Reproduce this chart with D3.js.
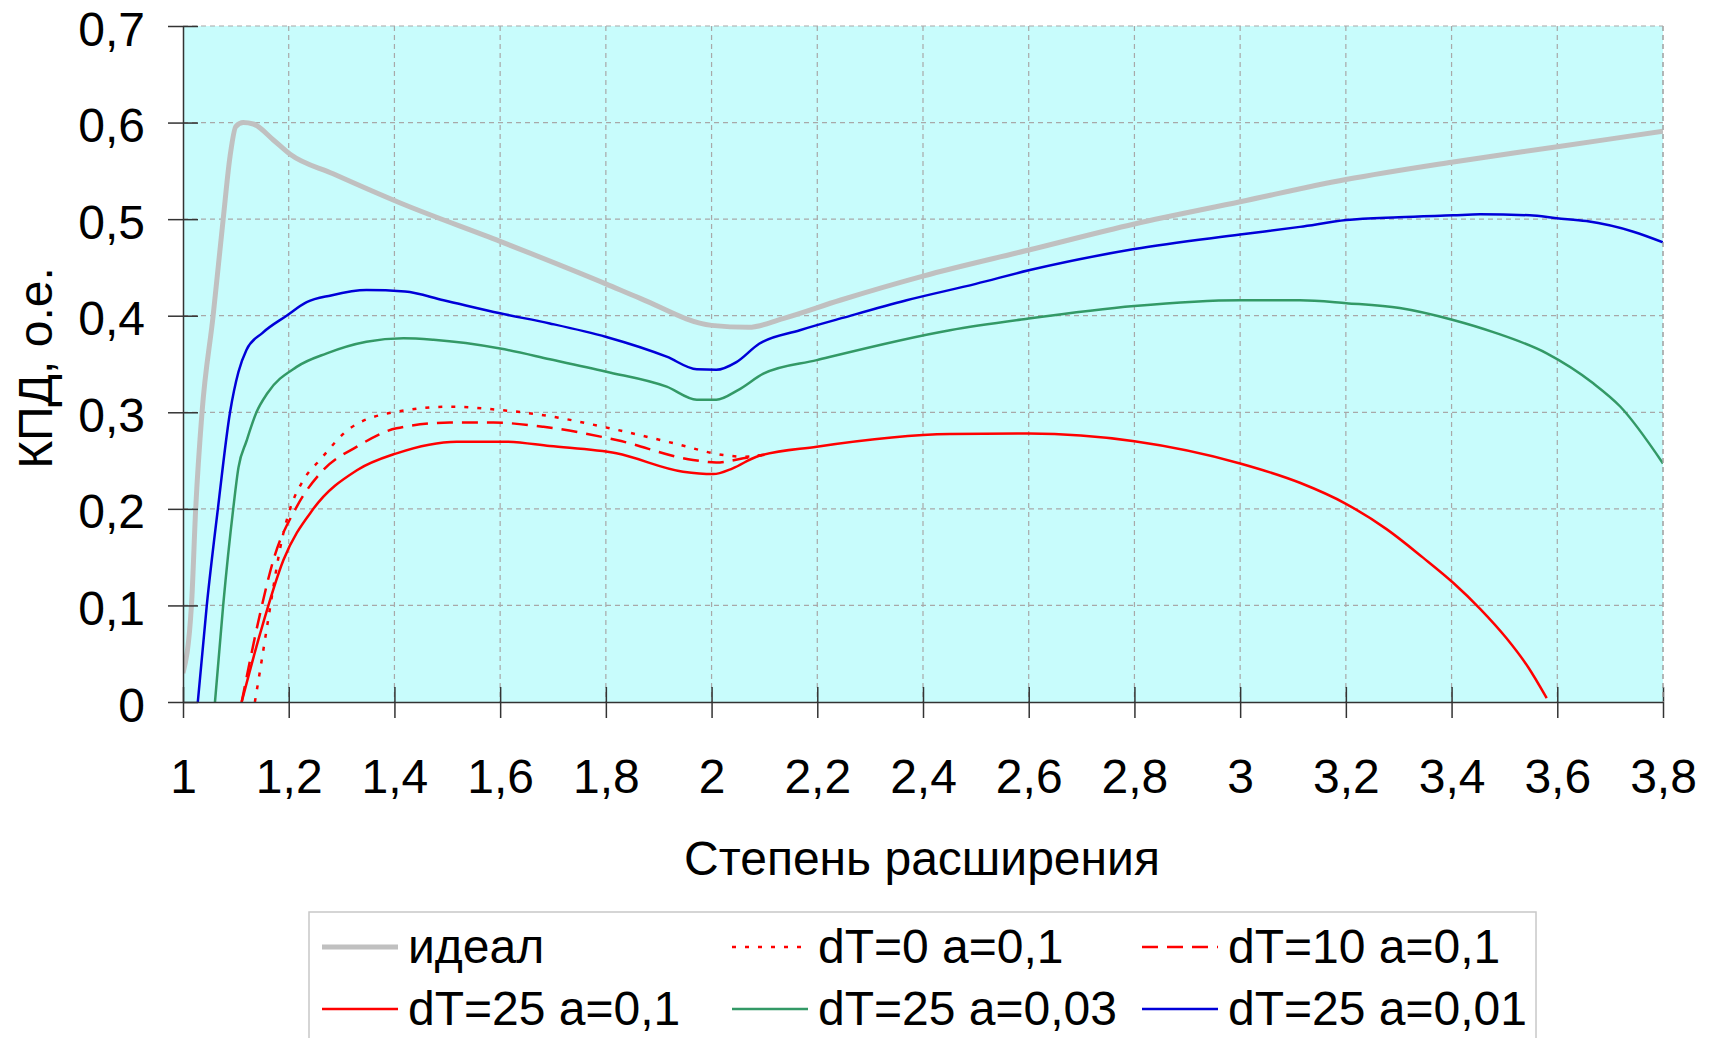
<!DOCTYPE html>
<html>
<head>
<meta charset="utf-8">
<script src="https://cdn.jsdelivr.net/npm/d3@7"></script>
<style>
  html, body { margin: 0; padding: 0; background: #ffffff; }
  svg { display: block; }
  text { font-family: "Liberation Sans", Arial, sans-serif; fill: #000; }
</style>
</head>
<body>
<svg id="chart" width="1710" height="1038"></svg>
<script>
// Expansion ratio ticks and efficiency ticks
const xTicks = [1, 1.2, 1.4, 1.6, 1.8, 2, 2.2, 2.4, 2.6, 2.8, 3, 3.2, 3.4, 3.6, 3.8];
const yTicks = [0, 0.1, 0.2, 0.3, 0.4, 0.5, 0.6, 0.7];

// идеал
const idealX = [1.0, 1.016, 1.024, 1.036, 1.057, 1.076, 1.089, 1.10, 1.114, 1.133, 1.171, 1.202, 1.284, 1.41, 1.6, 1.8, 1.865, 2.0, 2.07, 2.135, 2.243, 2.4, 2.6, 2.8, 3.0, 3.2, 3.4, 3.6, 3.8];
const idealY = [0.03, 0.1, 0.2, 0.3, 0.4, 0.5, 0.565, 0.596, 0.600, 0.5985, 0.582, 0.5675, 0.547, 0.517, 0.477, 0.433, 0.418, 0.39, 0.388, 0.397, 0.416, 0.441, 0.468, 0.495, 0.518, 0.541, 0.559, 0.575, 0.591];

// dT=0 a=0,1
const dT0X = [1.136, 1.149, 1.158, 1.19, 1.202, 1.228, 1.259, 1.316, 1.404, 1.505, 1.6, 1.682, 1.808, 1.928, 2.022, 2.06, 2.1];
const dT0Y = [0, 0.0435, 0.0746, 0.175, 0.199, 0.230, 0.2506, 0.2834, 0.3006, 0.3058, 0.3024, 0.297, 0.2834, 0.268, 0.2558, 0.254, 0.256];

// dT=10 a=0,1
const dT10X = [1.111, 1.127, 1.146, 1.171, 1.215, 1.265, 1.329, 1.404, 1.505, 1.587, 1.682, 1.82, 1.965, 2.009, 2.06, 2.1];
const dT10Y = [0, 0.0435, 0.092, 0.147, 0.202, 0.240, 0.2644, 0.2834, 0.2893, 0.2893, 0.285, 0.2713, 0.2506, 0.248, 0.2523, 0.256];

// dT=25 a=0,1
const a01X = [1.111, 1.146, 1.19, 1.2466, 1.329, 1.404, 1.518, 1.606, 1.694, 1.82, 1.946, 2.003, 2.04, 2.085, 2.199, 2.451, 2.6, 2.8, 3.0, 3.113, 3.201, 3.277, 3.346, 3.403, 3.454, 3.504, 3.545, 3.58];
const a01Y = [0, 0.071, 0.147, 0.2, 0.240, 0.2575, 0.2696, 0.2696, 0.265, 0.2575, 0.2385, 0.236, 0.242, 0.254, 0.2644, 0.2775, 0.278, 0.27, 0.247, 0.227, 0.205, 0.179, 0.1495, 0.1235, 0.0965, 0.066, 0.036, 0.004];

// dT=25 a=0,03
const a003X = [1.0605, 1.076, 1.095, 1.105, 1.12, 1.139, 1.16, 1.215, 1.272, 1.347, 1.417, 1.474, 1.6, 1.694, 1.801, 1.915, 1.972, 2.009, 2.05, 2.098, 2.199, 2.451, 2.6, 2.8, 3.0, 3.113, 3.201, 3.302, 3.403, 3.479, 3.58, 3.668, 3.719, 3.8];
const a003Y = [0, 0.1, 0.2, 0.243, 0.27, 0.3, 0.32, 0.347, 0.361, 0.373, 0.3766, 0.375, 0.366, 0.355, 0.342, 0.3265, 0.313, 0.313, 0.323, 0.340, 0.354, 0.385, 0.397, 0.41, 0.416, 0.416, 0.413, 0.408, 0.3956, 0.383, 0.361, 0.330, 0.306, 0.247];

// dT=25 a=0,01
const a001X = [1.028, 1.045, 1.066, 1.089, 1.105, 1.12, 1.15, 1.196, 1.234, 1.28, 1.347, 1.42, 1.493, 1.6, 1.694, 1.801, 1.915, 1.972, 2.009, 2.047, 2.09, 2.167, 2.25, 2.369, 2.5, 2.6, 2.8, 3.0, 3.113, 3.201, 3.3, 3.403, 3.454, 3.548, 3.599, 3.655, 3.744, 3.8];
const a001Y = [0, 0.1, 0.2, 0.3, 0.342, 0.3645, 0.382, 0.40, 0.414, 0.421, 0.4265, 0.425, 0.416, 0.4025, 0.392, 0.378, 0.3576, 0.3445, 0.344, 0.352, 0.371, 0.385, 0.398, 0.416, 0.433, 0.447, 0.469, 0.484, 0.492, 0.499, 0.502, 0.504, 0.505, 0.504, 0.501, 0.498, 0.487, 0.476];

const series = [
  { name: "идеал",         xs: idealX, ys: idealY, color: "#c0c0c0", width: 5,   dash: null },
  { name: "dT=0 a=0,1",    xs: dT0X,   ys: dT0Y,   color: "#ff0000", width: 2.5, dash: "4,9" },
  { name: "dT=10 a=0,1",   xs: dT10X,  ys: dT10Y,  color: "#ff0000", width: 2.5, dash: "16,9" },
  { name: "dT=25 a=0,1",   xs: a01X,   ys: a01Y,   color: "#ff0000", width: 2.5, dash: null },
  { name: "dT=25 a=0,03",  xs: a003X,  ys: a003Y,  color: "#339966", width: 2.5, dash: null },
  { name: "dT=25 a=0,01",  xs: a001X,  ys: a001Y,  color: "#0000d8", width: 2.5, dash: null }
];

const plot = { left: 183, right: 1663, top: 26, bottom: 702 };
const FS = 48;
const FONT = '"Liberation Sans", Arial, sans-serif';

const svg = d3.select("#chart");
const x = d3.scaleLinear().domain([1, 3.8]).range([plot.left, plot.right]);
const y = d3.scaleLinear().domain([0, 0.7]).range([plot.bottom, plot.top]);
const fmt = v => String(+v.toFixed(1)).replace(".", ",");

// plot background
svg.append("rect")
  .attr("x", plot.left).attr("y", plot.top)
  .attr("width", plot.right - plot.left).attr("height", plot.bottom - plot.top)
  .attr("fill", "#c8fcfc");

// dashed grid
const grid = svg.append("g").attr("stroke", "#a8a8a8").attr("stroke-width", 1.2).attr("stroke-dasharray", "5,4");
grid.selectAll("line.gx").data(xTicks.slice(1)).join("line")
  .attr("x1", d => x(d)).attr("x2", d => x(d))
  .attr("y1", plot.top).attr("y2", plot.bottom);
grid.selectAll("line.gy").data(yTicks.slice(1)).join("line")
  .attr("x1", plot.left).attr("x2", plot.right)
  .attr("y1", d => y(d)).attr("y2", d => y(d));

// series lines
svg.append("clipPath").attr("id", "clip").append("rect")
  .attr("x", plot.left).attr("y", plot.top - 3)
  .attr("width", plot.right - plot.left).attr("height", plot.bottom - plot.top + 3);

const line = d3.line().x(d => x(d[0])).y(d => y(d[1])).curve(d3.curveMonotoneX);
const lines = svg.append("g").attr("clip-path", "url(#clip)");
series.forEach(s => {
  const pts = s.xs.map((v, i) => [v, s.ys[i]]);
  lines.append("path")
    .attr("d", line(pts))
    .attr("fill", "none")
    .attr("stroke", s.color)
    .attr("stroke-width", s.width)
    .attr("stroke-linejoin", "round")
    .attr("stroke-dasharray", s.dash);
});

// axes with crossing tick marks
const xAxis = svg.append("g").attr("transform", `translate(0,${plot.bottom})`)
  .call(d3.axisBottom(x).tickValues(xTicks).tickSizeInner(16).tickSizeOuter(0).tickFormat(fmt));
xAxis.select(".domain").attr("stroke", "#333").attr("stroke-width", 1.5);
xAxis.selectAll(".tick line").attr("y1", -15).attr("stroke", "#333").attr("stroke-width", 1.5);
xAxis.selectAll(".tick text")
  .attr("y", 91).attr("dy", null)
  .style("font-size", FS + "px").style("font-family", FONT);

const yAxis = svg.append("g").attr("transform", `translate(${plot.left},0)`)
  .call(d3.axisLeft(y).tickValues(yTicks).tickSizeInner(15).tickSizeOuter(0).tickFormat(fmt));
yAxis.select(".domain").attr("stroke", "#333").attr("stroke-width", 1.5);
yAxis.selectAll(".tick line").attr("x1", 15).attr("stroke", "#333").attr("stroke-width", 1.5);
yAxis.selectAll(".tick text")
  .attr("x", -38).attr("dy", null).attr("y", 19)
  .style("font-size", FS + "px").style("font-family", FONT);

// right border
svg.append("line")
  .attr("x1", plot.right).attr("x2", plot.right).attr("y1", plot.top).attr("y2", plot.bottom)
  .attr("stroke", "#a8a8a8").attr("stroke-width", 1.2).attr("stroke-dasharray", "5,4");

// axis titles
svg.append("text")
  .attr("x", 922).attr("y", 875)
  .attr("text-anchor", "middle").style("font-size", FS + "px")
  .text("Степень расширения");
svg.append("text")
  .attr("transform", `translate(52,368) rotate(-90)`)
  .attr("text-anchor", "middle").style("font-size", FS + "px")
  .text("КПД, о.е.");

// legend
const legend = svg.append("g");
legend.append("rect")
  .attr("x", 309).attr("y", 912).attr("width", 1227).attr("height", 140)
  .attr("fill", "#fff").attr("stroke", "#c8c8c8").attr("stroke-width", 1.5);
const cols = [322, 732, 1142];
const rows = [947, 1009];
series.forEach((s, i) => {
  const cx = cols[i % 3], cy = rows[Math.floor(i / 3)];
  legend.append("line")
    .attr("x1", cx).attr("x2", cx + 76).attr("y1", cy).attr("y2", cy)
    .attr("stroke", s.color).attr("stroke-width", s.width).attr("stroke-dasharray", s.dash);
  legend.append("text")
    .attr("x", cx + 86).attr("y", cy + 16)
    .style("font-size", FS + "px")
    .text(s.name);
});
</script>
</body>
</html>
